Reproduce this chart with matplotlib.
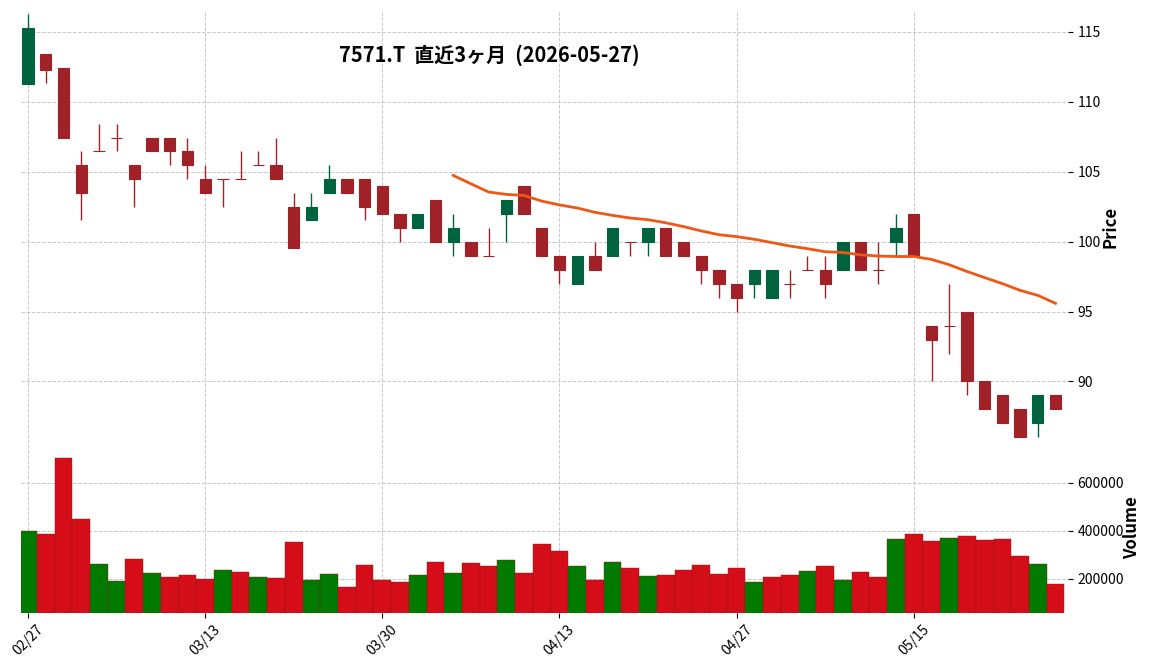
import matplotlib
matplotlib.use("Agg")
import matplotlib.pyplot as plt
import numpy as np

plt.rcParams["font.family"] = ["Noto Sans CJK JP", "DejaVu Sans"]

# trading days shown (MM/DD)
dates = [
    "02/27", "03/02", "03/03", "03/04", "03/05", "03/06", "03/09", "03/10", "03/11", "03/12",
    "03/13", "03/16", "03/17", "03/18", "03/19", "03/23", "03/24", "03/25", "03/26", "03/27",
    "03/30", "03/31", "04/01", "04/02", "04/03", "04/06", "04/07", "04/08", "04/09", "04/10",
    "04/13", "04/14", "04/15", "04/16", "04/17", "04/20", "04/21", "04/22", "04/23", "04/24",
    "04/27", "04/28", "04/30", "05/01", "05/07", "05/08", "05/11", "05/12", "05/13", "05/14",
    "05/15", "05/18", "05/19", "05/20", "05/21", "05/22", "05/25", "05/26", "05/27",
]
opens = [
    111.3, 113.4, 112.4, 105.5, 106.45, 107.45, 105.5, 107.45, 107.45, 106.45,
    104.5, 104.5, 104.5, 105.5, 105.5, 102.5, 101.55, 103.5, 104.5, 104.5,
    104, 102, 101, 103, 100, 100, 99, 102, 104, 101,
    99, 97, 99, 99, 100, 100, 101, 100, 99, 98,
    97, 97, 96, 97, 98, 98, 98, 100, 98, 100,
    102, 94, 94, 95, 90, 89, 88, 87, 89,
]
highs = [
    116.3, 113.4, 112.4, 106.45, 108.45, 108.45, 105.5, 107.45, 107.45, 107.45,
    105.5, 104.5, 106.45, 106.45, 107.45, 103.5, 103.5, 105.5, 104.5, 104.5,
    104, 102, 102, 103, 102, 100, 101, 103, 104, 101,
    99, 99, 100, 101, 100, 101, 101, 100, 99, 98,
    97, 98, 98, 98, 99, 99, 100, 100, 100, 102,
    102, 94, 97, 95, 90, 89, 88, 89, 89,
]
lows = [
    111.3, 111.35, 107.4, 101.55, 106.45, 106.45, 102.5, 106.45, 105.5, 104.5,
    103.5, 102.5, 104.5, 105.5, 104.5, 99.55, 101.55, 103.5, 103.5, 101.55,
    102, 100, 101, 100, 99, 99, 99, 100, 102, 99,
    97, 97, 98, 99, 99, 99, 99, 99, 97, 96,
    95, 96, 96, 96, 98, 96, 98, 98, 97, 99,
    99, 90, 92, 89, 88, 87, 86, 86, 88,
]
closes = [
    115.3, 112.3, 107.4, 103.5, 106.45, 107.45, 104.5, 106.45, 106.45, 105.5,
    103.5, 104.5, 104.5, 105.5, 104.5, 99.55, 102.5, 104.5, 103.5, 102.5,
    102, 101, 102, 100, 101, 99, 99, 103, 102, 99,
    98, 99, 98, 101, 100, 101, 99, 99, 98, 97,
    96, 98, 98, 97, 98, 97, 100, 98, 98, 101,
    99, 93, 94, 90, 88, 87, 86, 89, 88,
]
volumes = [
    399000, 385000, 703000, 448000, 260000, 189000, 281000, 222000, 205600, 214000,
    197000, 235000, 226500, 205600, 201400, 352000, 193000, 218000, 164000, 256000,
    193000, 184700, 214000, 268000, 222000, 264000, 251600, 276600, 222000, 343500,
    314000, 251600, 193000, 268000, 243000, 209800, 214000, 235000, 256000, 218000,
    243000, 184700, 205600, 214000, 230700, 251600, 193000, 226500, 205600, 364500,
    385000, 356000, 368600, 377000, 360000, 364500, 293000, 260000, 176300,
]
# 25-day moving average as drawn (starts at bar 24)
ma25 = [None] * 24 + [
    104.74, 104.14, 103.55, 103.38, 103.31, 102.9,
    102.63, 102.41, 102.1, 101.88, 101.69, 101.57, 101.35, 101.08, 100.77, 100.5,
    100.36, 100.17, 99.93, 99.69, 99.5, 99.28, 99.23, 99.06, 98.97, 98.94,
    98.94, 98.73, 98.35, 97.87, 97.43, 97.0, 96.52, 96.16, 95.59,
]

UP, DOWN = "#006340", "#A02128"
VUP, VDOWN = "#007a00", "#d50d18"
GRID = dict(color="#c8c8c8", linestyle="--", linewidth=0.7)

x = np.arange(len(dates))
o, h, l, c = map(np.array, (opens, highs, lows, closes))
candle_colors = [UP if cc > oo else DOWN for oo, cc in zip(o, c)]
vol_colors = [VUP] + [VUP if c[i] > c[i - 1] else VDOWN for i in range(1, len(c))]

fig = plt.figure(figsize=(11.52, 6.70), dpi=100)
ax1 = fig.add_axes([0.0182, 0.3388, 0.9088, 0.6448])
ax2 = fig.add_axes([0.0182, 0.0851, 0.9088, 0.2537], sharex=ax1)

# candles
ax1.vlines(x, l, h, colors=candle_colors, linewidth=1.0, zorder=2)
ax1.bar(x, np.abs(c - o), bottom=np.minimum(o, c), width=0.64,
        color=candle_colors, edgecolor=candle_colors, linewidth=0.8, zorder=3)

ma = np.array([np.nan if v is None else v for v in ma25])
ax1.plot(x, ma, color="#ef5716", linewidth=2.0, zorder=4)

ax1.set_ylim(85.6, 116.5)
ax1.set_yticks([90, 95, 100, 105, 110, 115])
ax1.set_ylabel("Price", fontsize=12, fontweight="bold", labelpad=0.5)

# volume
ax2.bar(x, volumes, width=1.0, color=vol_colors, edgecolor="#8a1a1a",
        linewidth=0.3, zorder=3)
ax2.set_ylim(57000, 765000)
ax2.set_yticks([200000, 400000, 600000])
ax2.set_yticklabels(["200000", "400000", "600000"])
ax2.set_ylabel("Volume", fontsize=12, fontweight="bold", labelpad=-1)

ax2.set_xlim(-0.4, 58.7)
ticks = x[::10]
ax2.set_xticks(ticks)
ax2.set_xticklabels([dates[i] for i in ticks], rotation=45, ha="center")

for ax in (ax1, ax2):
    ax.yaxis.tick_right()
    ax.yaxis.set_label_position("right")
    ax.grid(True, **GRID)
    ax.set_axisbelow(True)
    for s in ax.spines.values():
        s.set_visible(False)
    ax.tick_params(axis="both", labelsize=10, length=3.5)
ax1.tick_params(axis="x", length=0, labelbottom=False)

fig.text(0.425, 0.917, "7571.T  直近3ヶ月  (2026-05-27)", ha="center", va="center",
         fontsize=14.4, fontweight="bold")

fig.savefig("out.png", dpi=100)
plt.close(fig)
